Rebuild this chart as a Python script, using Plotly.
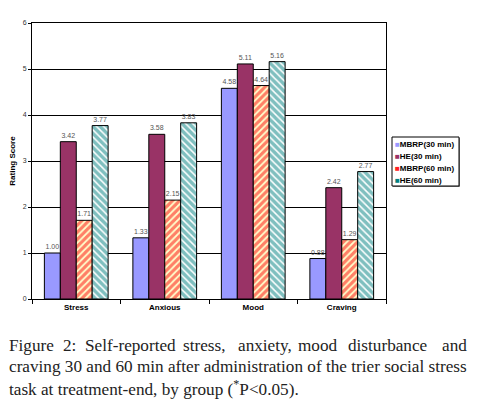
import plotly.graph_objects as go

categories = ["Stress", "Anxious", "Mood", "Craving"]
series_names = ["MBRP(30 min)", "HE(30 min)", "MBRP(60 min)", "HE(60 min)"]
mbrp30 = [1.00, 1.33, 4.58, 0.88]
he30 = [3.42, 3.58, 5.11, 2.42]
mbrp60 = [1.71, 2.15, 4.64, 1.29]
he60 = [3.77, 3.83, 5.16, 2.77]
y_ticks = [0, 1, 2, 3, 4, 5, 6]
series_colors = ["#9999FF", "#993366", "#FF2020", "#008080"]

# the page adds an 8px body margin, so the figure is drawn 8px smaller
PAGE_OFF = 8
W, H = 478 - PAGE_OFF, 411 - PAGE_OFF
# plot-area edges in reference-picture pixels
L, R, T, B = 32, 386, 23, 299

def px_x(px):
    return (px - L) / (R - L)

def px_y(py):
    return (B - py) / (B - T)

styles = [
    dict(color="#9999FF", line=dict(color="black", width=1)),
    dict(color="#993366", line=dict(color="black", width=1)),
    dict(color="#FFFFCC", line=dict(color="black", width=1),
         pattern=dict(shape="/", fgcolor="#FF0000", solidity=0.65, size=5)),
    dict(color="#FFFFFF", line=dict(color="black", width=1),
         pattern=dict(shape="\\", fgcolor="#008080", solidity=0.7, size=5)),
]

fig = go.Figure()
for name, vals, st in zip(series_names, [mbrp30, he30, mbrp60, he60], styles):
    fig.add_trace(go.Bar(
        x=categories, y=vals, name=name, marker=st,
        text=[f"{v:.2f}" for v in vals], textposition="outside",
        textfont=dict(family="Liberation Sans", size=7, color="#555555"),
        cliponaxis=False, showlegend=False,
    ))

fig.update_layout(
    width=W, height=H,
    margin=dict(l=L - PAGE_OFF, r=W - (R - PAGE_OFF), t=T - PAGE_OFF,
                b=H - (B - PAGE_OFF), autoexpand=False),
    paper_bgcolor="white", plot_bgcolor="white",
    barmode="group", bargap=0.28, bargroupgap=0,
    font=dict(family="Liberation Sans", color="black"),
    showlegend=False,
    uniformtext=dict(minsize=7, mode="show"),
)
fig.update_yaxes(
    range=[0, 6], tickvals=y_ticks, ticktext=[str(v) for v in y_ticks],
    showgrid=True, gridcolor="#000000", gridwidth=1,
    showline=True, linecolor="black", linewidth=1, mirror=True,
    ticks="outside", ticklen=3, tickcolor="black",
    tickfont=dict(size=7, color="#333333"),
    title=dict(text="<b>Rating Score</b>", font=dict(size=8), standoff=6),
    zeroline=False, automargin=False,
)
fig.update_xaxes(
    showline=True, linecolor="black", linewidth=1, mirror=True,
    ticks="outside", ticklen=4, tickcolor="black", tickson="boundaries",
    tickfont=dict(size=8, color="black"),
    ticktext=[f"<b>{c}</b>" for c in categories], tickvals=categories,
    automargin=False,
)

# compact legend box like the original
fig.add_shape(type="rect", xref="paper", yref="paper",
              x0=px_x(393), x1=px_x(460), y0=px_y(187), y1=px_y(138),
              fillcolor="#888888", line=dict(width=0), layer="below")
fig.add_shape(type="rect", xref="paper", yref="paper",
              x0=px_x(392), x1=px_x(459), y0=px_y(186), y1=px_y(137),
              fillcolor="white", line=dict(color="black", width=1))
row_y = [144, 156, 168, 180]
for name, col, ry in zip(series_names, series_colors, row_y):
    fig.add_annotation(
        text=f'<span style="color:{col}">■</span><b>{name}</b>',
        x=px_x(393), y=px_y(ry), xref="paper", yref="paper",
        xanchor="left", yanchor="middle", showarrow=False,
        font=dict(family="Liberation Sans", size=8, color="black"))

# caption (justified first line, placed word by word)
cap_font = dict(family="Liberation Serif", size=17.2, color="#222222")
X0, X1 = 7, 469
def cap_x(px):
    return X0 + (px - 5) * (X1 - X0) / (476 - 5)

line1 = [("Figure", 5), ("2:", 60), ("Self-reported", 82), ("stress,", 182),
         ("anxiety,", 238), ("mood", 300), ("disturbance", 351)]
for w, xp in line1:
    fig.add_annotation(text=w, x=px_x(cap_x(xp)), y=px_y(345), xref="paper", yref="paper",
                       xanchor="left", yanchor="middle", showarrow=False, font=cap_font)
fig.add_annotation(text="and", x=px_x(X1), y=px_y(345), xref="paper", yref="paper",
                   xanchor="right", yanchor="middle", showarrow=False, font=cap_font)
fig.add_annotation(text="craving 30 and 60 min after administration of the trier social stress",
                   x=px_x(X0), y=px_y(366), xref="paper", yref="paper",
                   xanchor="left", yanchor="middle", showarrow=False, font=cap_font)
fig.add_annotation(text="task at treatment-end, by group (<sup>*</sup>P<0.05).",
                   x=px_x(X0), y=px_y(388), xref="paper", yref="paper",
                   xanchor="left", yanchor="middle", showarrow=False, font=cap_font)

fig.write_html("out.html")
